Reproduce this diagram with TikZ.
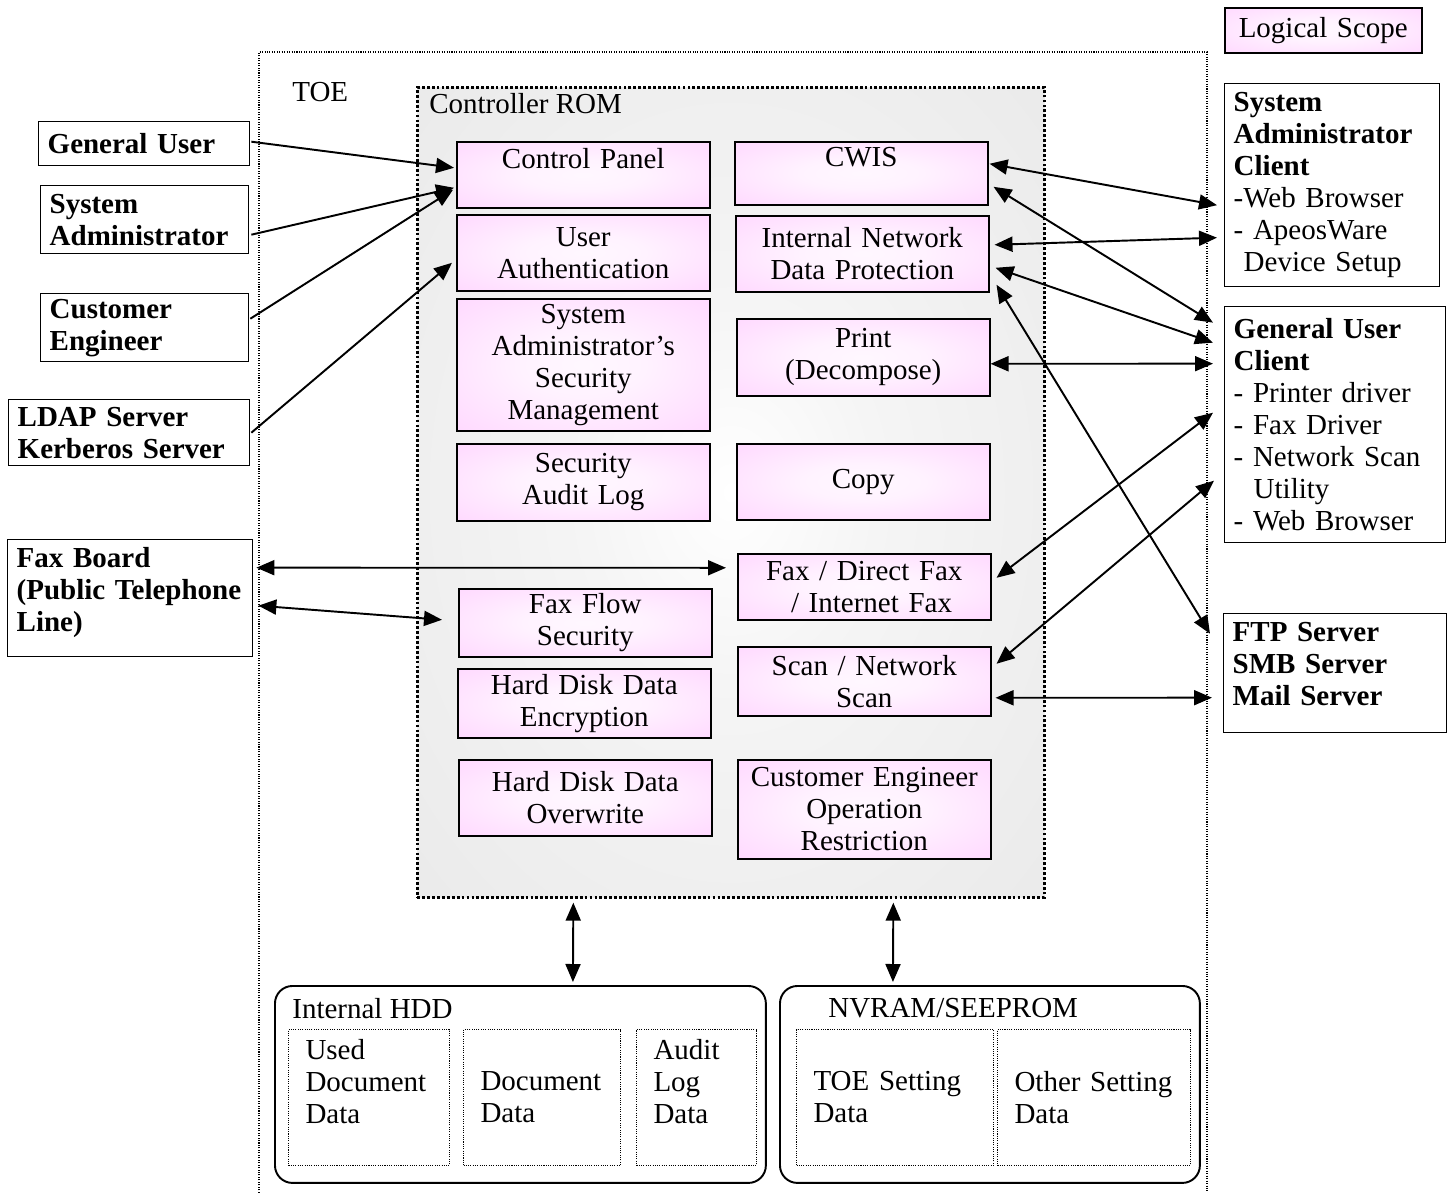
\documentclass[tikz,border=0pt]{standalone}
\usepackage{fontspec}
\setmainfont{Liberation Serif}
\usetikzlibrary{arrows.meta,calc}
\hyphenpenalty=10000
\exhyphenpenalty=10000
\definecolor{pinkc}{RGB}{255,204,255}
\definecolor{romgray}{RGB}{229,229,229}
\pgfdeclareradialshading{pinkglow}{\pgfpoint{0bp}{0bp}}{color(0bp)=(pinkc!15); color(12bp)=(pinkc!25); color(48bp)=(pinkc); color(80bp)=(pinkc)}
\pgfdeclareradialshading{romglow}{\pgfpoint{0bp}{0bp}}{color(0bp)=(white); color(12bp)=(white!96!black); color(48bp)=(romgray); color(80bp)=(romgray)}
\begin{document}
\begin{tikzpicture}[x=0.02cm,y=-0.02cm,
  font=\fontsize{16.5pt}{18.2pt}\selectfont,
  pbox/.style={draw, line width=0.9pt, shade, shading=pinkglow, inner xsep=0.05cm, inner ysep=0pt,
    align=center, anchor=north west, minimum width=5.06cm, text width=4.96cm},
  ext/.style={draw, line width=0.8pt, fill=white, inner xsep=0.18cm, inner ysep=0pt, align=left,
    anchor=north west, font=\fontsize{16.5pt}{18.2pt}\selectfont\bfseries},
  store/.style={draw, line width=1.1pt, rounded corners=0.35cm, anchor=north west, inner sep=0pt,
    minimum height=3.94cm},
  datab/.style={draw, line width=0.6pt, dash pattern=on 0.6pt off 0.7pt, anchor=north west,
    inner xsep=0.34cm, inner ysep=0pt, align=left, minimum height=2.72cm},
  lbl/.style={anchor=base west, inner sep=0pt},
  conn/.style={line width=1.1pt, -{Triangle[length=0.36cm,width=0.3cm]}},
  dconn/.style={line width=1.1pt, {Triangle[length=0.36cm,width=0.3cm]}-{Triangle[length=0.36cm,width=0.3cm]}},
]
\useasboundingbox (0,0) rectangle (1454,1193);

% TOE scope
\draw[line width=0.6pt, dash pattern=on 0.6pt off 0.8pt] (259,1205) -- (259,52) -- (1207,52) -- (1207,1205);
\node[lbl] (toelabel) at (292,102) {TOE};

% Controller ROM
\node[draw, line width=1.6pt, dash pattern=on 1.6pt off 1.2pt, shade, shading=romglow,
  anchor=north west, minimum width=12.54cm, minimum height=16.2cm, inner sep=0pt] (rom) at (416,86) {};
\node[lbl] (romlabel) at (429,113) {Controller ROM};

% left column functions
\node[pbox, minimum height=1.32cm] (cp) at (456,141) {Control Panel\\\mbox{}};
\node[pbox, minimum height=1.52cm] (ua) at (456,214) {User\\Authentication};
\node[pbox, minimum height=2.64cm] (sasm) at (456,298) {System\\Administrator’s\\Security\\Management};
\node[pbox, minimum height=1.54cm] (sal) at (456,443) {Security\\Audit Log};
\node[pbox, minimum height=1.36cm] (ffs) at (458,588) {Fax Flow\\Security};
\node[pbox, minimum height=1.38cm] (hde) at (457,668) {Hard Disk Data\\Encryption};
\node[pbox, minimum height=1.52cm] (hdo) at (458,759) {Hard Disk Data\\Overwrite};

% right column functions
\node[pbox, minimum height=1.26cm] (cwis) at (734,141) {CWIS\\\mbox{}};
\node[pbox, minimum height=1.52cm] (indp) at (735,215) {Internal Network\\Data Protection};
\node[pbox, minimum height=1.54cm] (print) at (736,318) {Print\\(Decompose)};
\node[pbox, minimum height=1.52cm] (copy) at (736,443) {Copy};
\node[pbox, minimum height=1.32cm] (fdf) at (737,553) {Fax / Direct Fax\\\hspace*{0.5em}/ Internet Fax};
\node[pbox, minimum height=1.38cm] (scan) at (737,646) {Scan / Network\\Scan};
\node[pbox, minimum height=1.98cm] (ceor) at (737,759) {Customer Engineer\\Operation\\Restriction};

% legend
\node[pbox, minimum width=3.94cm, text width=3.84cm, minimum height=0.9cm] (ls) at (1224,7) {Logical Scope};

% left external entities
\node[ext, minimum width=4.22cm, text width=3.86cm, minimum height=0.88cm] (gu) at (38,121) {General User};
\node[ext, minimum width=4.16cm, text width=3.80cm, minimum height=1.36cm] (sa) at (40,185) {System\\Administrator};
\node[ext, minimum width=4.16cm, text width=3.80cm, minimum height=1.36cm] (ce) at (40,293) {Customer\\Engineer};
\node[ext, minimum width=4.82cm, text width=4.46cm, minimum height=1.32cm] (ldap) at (8,399) {LDAP Server\\Kerberos Server};
\node[ext, minimum width=4.90cm, text width=4.54cm, minimum height=2.34cm] (fax) at (7,539) {Fax Board\\(Public Telephone\\Line)\\[-8pt]\mbox{}};

% right external entities
\node[ext, minimum width=4.30cm, text width=3.94cm, minimum height=4.06cm] (sac) at (1224,83)
  {System\\Administrator\\Client\\{\mdseries -Web Browser}\\{\mdseries - ApeosWare}\\{\mdseries\hspace*{0.2cm}Device Setup}};
\node[ext, minimum width=4.42cm, text width=4.06cm, minimum height=4.72cm] (guc) at (1224,306)
  {General User\\Client\\{\mdseries - Printer driver}\\{\mdseries - Fax Driver}\\{\mdseries - Network Scan}\\{\mdseries\hspace*{0.4cm}Utility}\\{\mdseries - Web Browser}};
\node[ext, minimum width=4.46cm, text width=4.10cm, minimum height=2.38cm] (ftp) at (1223,613)
  {FTP Server\\SMB Server\\Mail Server\\[-8pt]\mbox{}};

% storage
\node[store, minimum width=9.82cm] (hdd) at (274,985) {};
\node[lbl] (hddlabel) at (292,1018) {Internal HDD};
\node[datab, minimum width=3.22cm, text width=2.54cm] (udd) at (288,1029) {Used\\Document\\Data\\\mbox{}};
\node[datab, minimum width=3.14cm, text width=2.46cm] (dd) at (463,1029) {Document\\Data};
\node[datab, minimum width=2.40cm, text width=1.72cm] (ald) at (636,1029) {Audit\\Log\\Data\\\mbox{}};

\node[store, minimum width=8.40cm] (nvram) at (779,985) {};
\node[lbl] (nvlabel) at (828,1017) {NVRAM/SEEPROM};
\node[datab, minimum width=3.94cm, text width=3.26cm] (tsd) at (796,1029) {TOE Setting\\Data};
\node[datab, minimum width=3.86cm, text width=3.18cm] (osd) at (997,1029) {Other Setting\\Data};

% connectors: left side
\draw[conn] ($(gu.east)+(1,-2)$) -- ($(cp.west)+(-2,-7)$);
\draw[conn] ($(sa.east)+(2,15)$) -- ($(cp.west)+(-2,13)$);
\draw[conn] ($(ce.east)+(1,-9)$) -- ($(cp.west)+(-3,15)$);
\draw[conn] ($(ldap.east)+(1,0)$) -- ($(ua.west)+(-4,10)$);
\draw[dconn] ($(fax.east)+(3,-30.5)$) -- ($(fdf.west)+(-11,-19)$);
\draw[dconn] ($(fax.east)+(5,7.5)$) -- ($(ffs.west)+(-16,-3)$);

% connectors: right side
\draw[dconn] ($(cwis.east)+(1,-9.5)$) -- ($(sac.west)+(-7,20)$);
\draw[dconn] ($(cwis.east)+(5,13.5)$) -- ($(guc.west)+(-11,-102)$);
\draw[dconn] ($(indp.east)+(5,-9)$) -- ($(sac.west)+(-7,52.5)$);
\draw[dconn] ($(indp.east)+(6,14)$) -- ($(guc.west)+(-11,-82)$);
\draw[dconn] ($(indp.east)+(7,31)$) -- ($(ftp.west)+(-13,-39.5)$);
\draw[dconn] ($(print.east)+(0,6.5)$) -- ($(guc.west)+(-11,-61)$);
\draw[dconn] ($(fdf.east)+(5,-9)$) -- ($(guc.west)+(-11,-12)$);
\draw[dconn] ($(scan.east)+(5,-17.5)$) -- ($(guc.west)+(-10,56)$);
\draw[dconn] ($(scan.east)+(4,16.5)$) -- ($(ftp.west)+(-11,24.5)$);

% connectors: storage
\draw[dconn] ($(rom.south)+(-157.5,4)$) -- ($(hdd.north)+(52.5,-3)$);
\draw[dconn] ($(rom.south)+(162.5,4)$) -- ($(nvram.north)+(-97,-3)$);
\end{tikzpicture}
\end{document}
